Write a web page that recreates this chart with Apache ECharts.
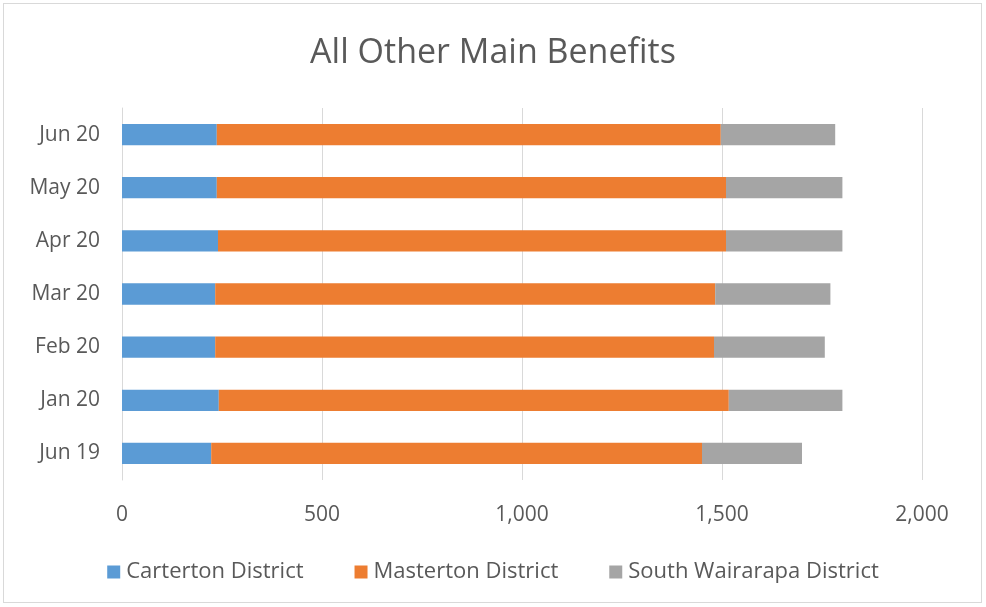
<!DOCTYPE html>
<html><head><meta charset="utf-8">
<script src="https://cdn.jsdelivr.net/npm/echarts@6/dist/echarts.min.js"></script>
<style>html,body{margin:0;padding:0;background:#fff}
#frame{position:absolute;left:3px;top:3px;width:979px;height:600px;border:1px solid #d9d9d9;box-sizing:border-box}
#c{position:absolute;left:0;top:0;width:986px;height:607px}</style>
</head><body><div id="frame"></div><div id="c"></div>
<script>
const categories = ["Jun 19","Jan 20","Feb 20","Mar 20","Apr 20","May 20","Jun 20"];
const carterton = [223, 242, 233, 233, 240, 237, 237];
const masterton = [1227, 1275, 1247, 1250, 1270, 1273, 1260];
const southWairarapa = [250, 284, 277, 288, 291, 291, 286];
const xTicks = [0, 500, 1000, 1500, 2000];
const seriesNames = ["Carterton District","Masterton District","South Wairarapa District"];
const colors = ["#5B9BD5","#ED7D31","#A5A5A5"];

const chart = echarts.init(document.getElementById('c'), null, {renderer:'canvas'});
const font = "'Open Sans', 'Noto Sans', sans-serif";
const mk = (name, data, i) => ({
  name, type:'bar', stack:'total', data, barWidth:'40%',
  itemStyle:{color:colors[i]}, emphasis:{disabled:true}
});
chart.setOption({
  animation:false,
  textStyle:{fontFamily:font},
  title:{text:'All Other Main Benefits', left:'center', top:31,
    textStyle:{fontFamily:font, fontSize:34, fontWeight:'normal', color:'#595959'}},
  grid:{left:122, right:64, top:108, bottom:127, containLabel:false},
  xAxis:{type:'value', min:xTicks[0], max:xTicks[xTicks.length-1], interval:500,
    axisLine:{show:false}, axisTick:{show:false},
    splitLine:{lineStyle:{color:'#d9d9d9', width:1}},
    axisLabel:{color:'#595959', fontSize:21, margin:25, fontFamily:font,
      formatter:v=>v.toLocaleString('en-US')}},
  yAxis:{type:'category', data:categories,
    axisLine:{show:true, lineStyle:{color:'#d9d9d9', width:1}}, axisTick:{show:false},
    axisLabel:{color:'#595959', fontSize:21, margin:22, fontFamily:font}},
  legend:{top:556, left:'center', itemWidth:13, itemHeight:13, icon:'rect', itemGap:51,
    textStyle:{color:'#595959', fontSize:22, fontFamily:font, padding:[0,0,0,1]},
    data:seriesNames},
  series:[mk(seriesNames[0], carterton, 0), mk(seriesNames[1], masterton, 1), mk(seriesNames[2], southWairarapa, 2)]
});
</script></body></html>
